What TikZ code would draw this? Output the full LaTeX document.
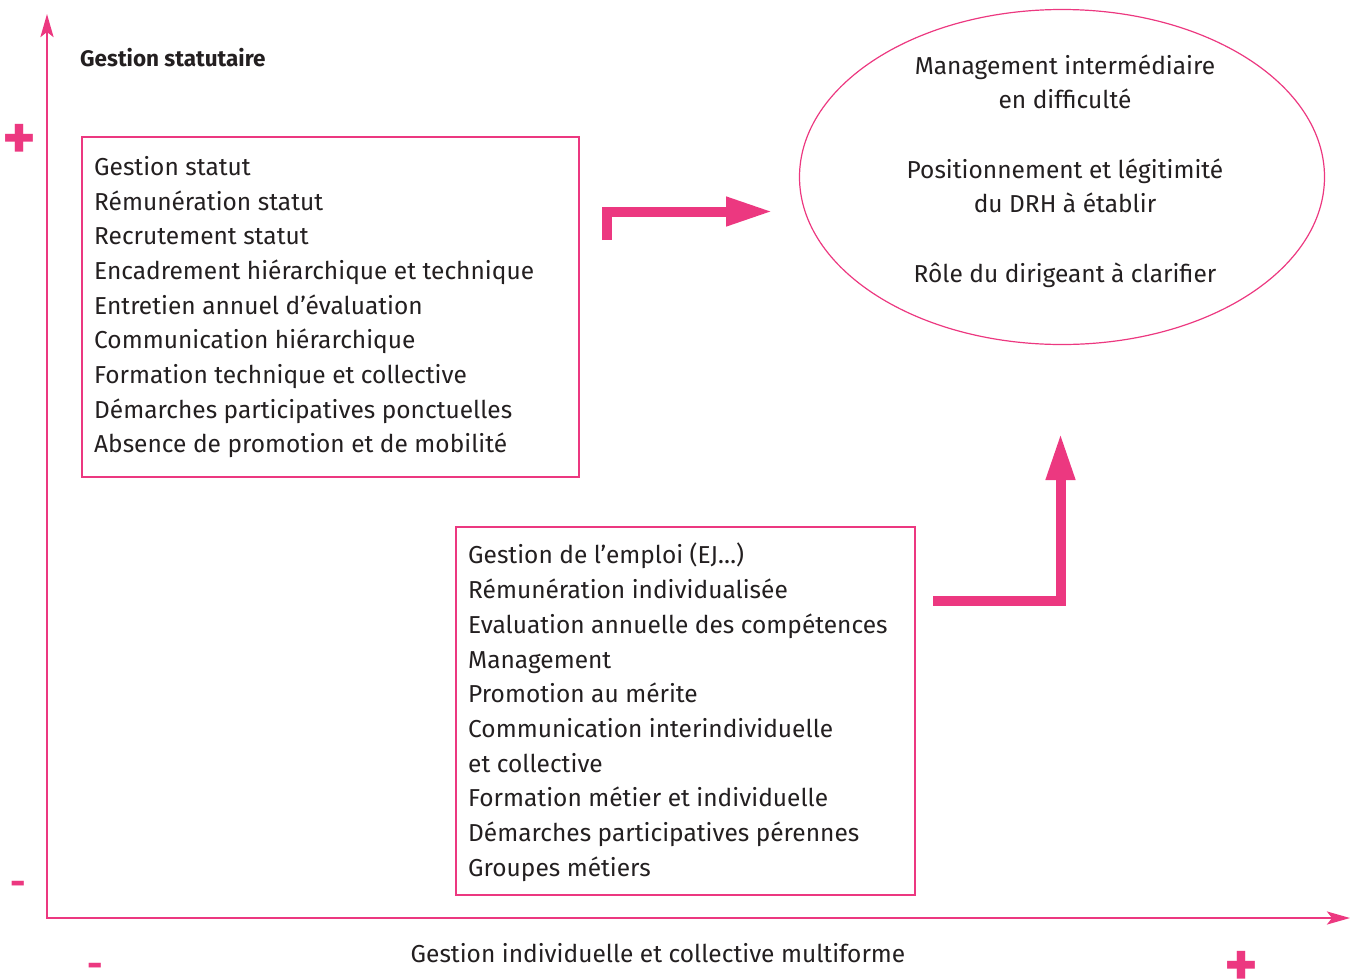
\documentclass[tikz,border=0pt]{standalone}
\usepackage{fontspec}
\setmainfont{Fira Sans}
\usetikzlibrary{arrows.meta,shapes.geometric}
\definecolor{pinkc}{RGB}{236,56,128}
\definecolor{inkc}{RGB}{35,31,32}
\tikzset{
  axisline/.style={draw=pinkc, line width=2.6pt},
  framebox/.style={draw=pinkc, line width=1.2pt, rectangle, inner sep=0pt},
  listtxt/.style={text=inkc, align=left, inner sep=0pt, anchor=north west,
    font=\fontsize{24.5}{34.7}\selectfont},
  ctxt/.style={text=inkc, align=center, inner sep=0pt,
    font=\fontsize{24.5}{34.7}\selectfont},
  plussign/.style={text=pinkc, inner sep=0pt, font=\fontsize{64}{64}\selectfont\bfseries},
  minussign/.style={text=pinkc, inner sep=0pt, font=\fontsize{38}{38}\selectfont\bfseries},
  bigarrow/.style={draw=pinkc, line width=10pt, line join=miter,
    -{Triangle[length=47pt,width=27pt]}},
}
\begin{document}
\begin{tikzpicture}[x=1pt,y=-1pt]
\useasboundingbox (0,0) rectangle (1357,978);
% axes
\coordinate (ytop) at (47,14);
\coordinate (orig) at (47,918);
\coordinate (xend) at (1350,918);
\draw[axisline, {Stealth[length=23pt,width=13pt,inset=5pt]}-{Stealth[length=23pt,width=13pt,inset=5pt]}] (ytop) -- (orig) -- (xend);
% signs
\node[plussign] (yplus) at (19,142) {+};
\node[minussign] (yminus) at (18,888) {-};
\node[minussign] (xminus) at (95,970) {-};
\node[plussign] (xplus) at (1241,969) {+};
% axis labels
\node[text=inkc, inner sep=0pt, anchor=west, font=\fontsize{22.5}{26}\selectfont\bfseries] (ylab) at (80,58) {Gestion statutaire};
\node[ctxt] (xlab) at (658,953) {Gestion individuelle et collective multiforme};
% box 1
\node[framebox, minimum width=497pt, minimum height=340pt] (b1) at (330.5,307) {};
\node[listtxt] (t1) at (94,156) {Gestion statut\\Rémunération statut\\Recrutement statut\\Encadrement hiérarchique et technique\\Entretien annuel d’évaluation\\Communication hiérarchique\\Formation technique et collective\\Démarches participatives ponctuelles\\Absence de promotion et de mobilité};
% box 2
\node[framebox, minimum width=459pt, minimum height=368pt] (b2) at (685.5,711) {};
\node[listtxt] (t2) at (468,543) {Gestion de l’emploi (EJ…)\\Rémunération individualisée\\Evaluation annuelle des compétences\\Management\\Promotion au mérite\\Communication interindividuelle\\et collective\\Formation métier et individuelle\\Démarches participatives pérennes\\Groupes métiers};
% ellipse
\node[ellipse, draw=pinkc, line width=1.2pt, minimum width=525pt, minimum height=335pt, inner sep=0pt] (el) at (1062,177) {};
\node[ctxt] (et) at (1065,171) {Management intermédiaire\\en difficulté\\[34.7pt]Positionnement et légitimité\\du DRH à établir\\[34.7pt]Rôle du dirigeant à clarifier};
% arrows
\coordinate (a1s) at (607,240);
\coordinate (a1c) at (607,211.5);
\coordinate (a1e) at (773,211.5);
\draw[bigarrow] (a1s) -- (a1c) -- (a1e);
\coordinate (a2s) at (933,601);
\coordinate (a2c) at (1060.5,601);
\coordinate (a2e) at (1060.5,433);
\draw[bigarrow] (a2s) -- (a2c) -- (a2e);
\end{tikzpicture}
\end{document}
